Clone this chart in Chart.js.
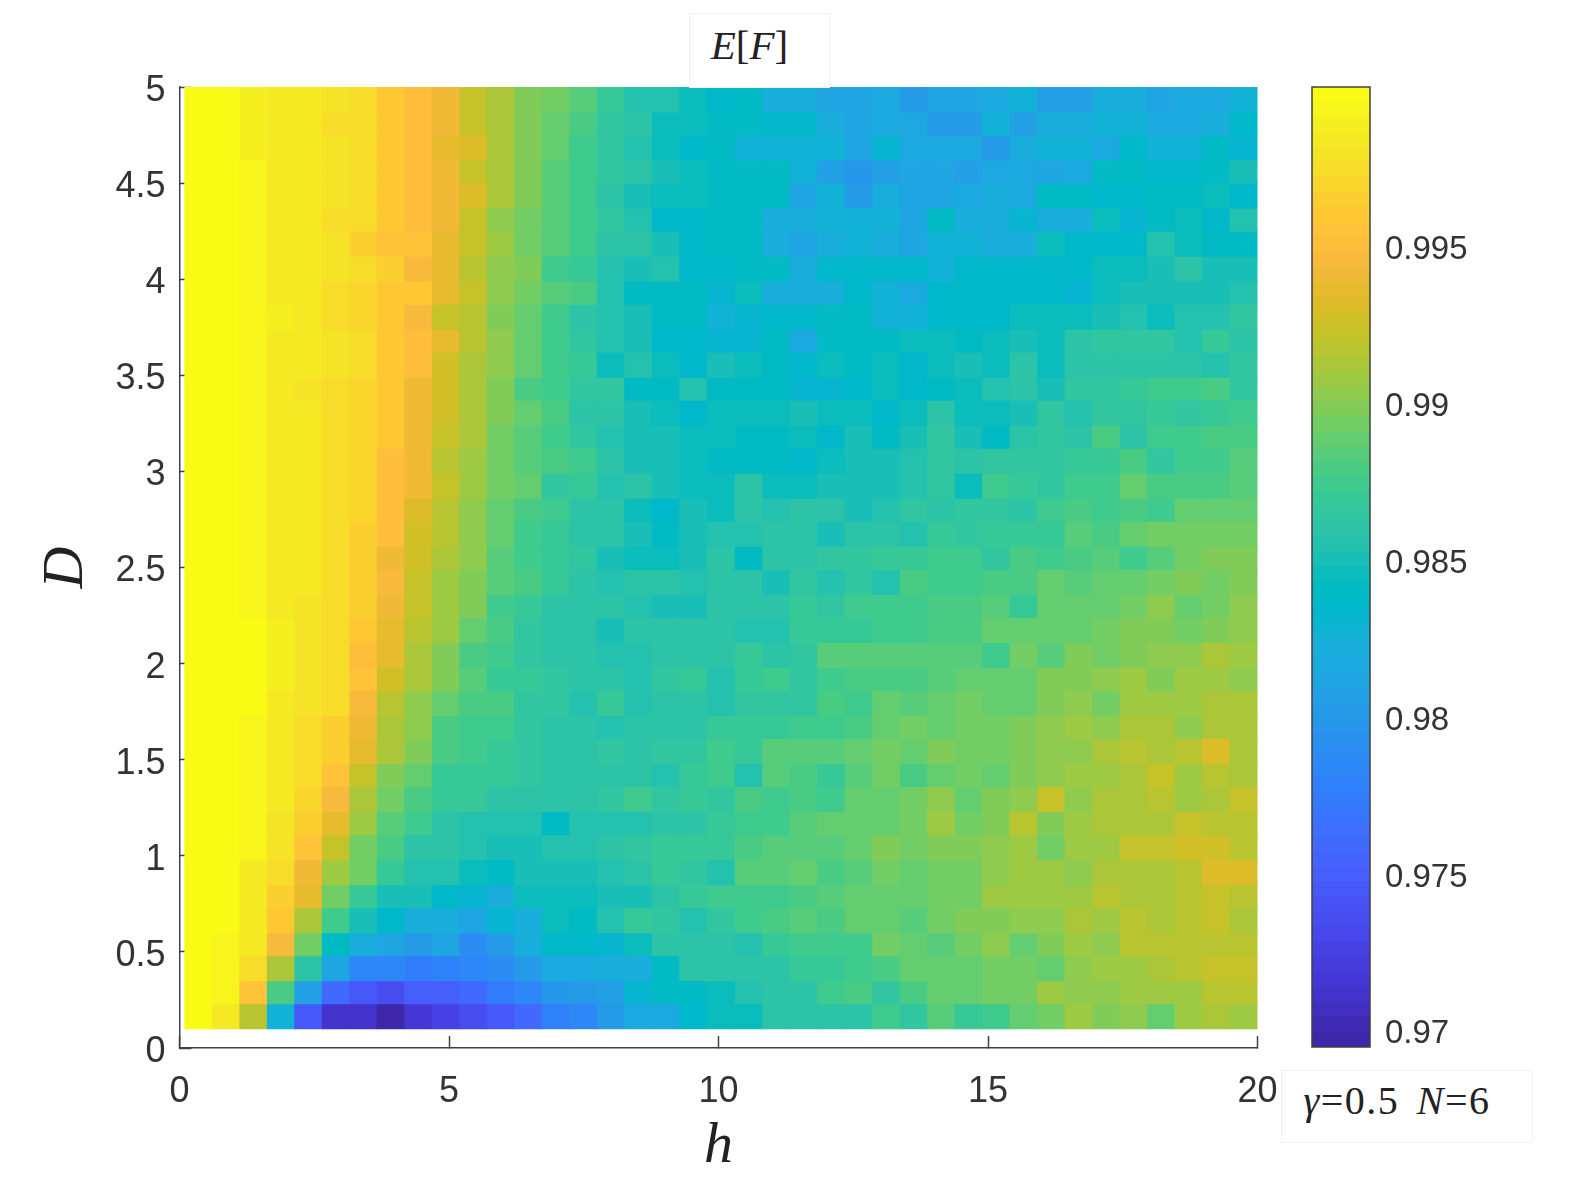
<!DOCTYPE html>
<html>
<head>
<meta charset="utf-8">
<title>E[F]</title>
<script src="https://cdn.jsdelivr.net/npm/chart.js@4/dist/chart.umd.min.js"></script>
<style>
  html, body { margin: 0; padding: 0; background: #fff; overflow: hidden; }
  #page { position: relative; width: 1578px; height: 1183px; }
  canvas { position: absolute; display: block; }
  .mathbox { position: absolute; box-sizing: border-box; border: 1px solid #f1f1f1; background: #fff;
             font-family: "Liberation Serif", serif; color: #222; white-space: nowrap; text-align: center; }
</style>
</head>
<body>
<div id="page">
  <canvas id="heatChart" width="1578" height="1183" style="left:0;top:0"></canvas>
  <canvas id="barChart" width="288" height="1183" style="left:1290px;top:0"></canvas>
  <div class="mathbox" style="left:689px;top:13px;width:141px;height:75px;line-height:62px;font-size:41px;padding-right:20px"><i>E</i>[<i>F</i>]</div>
  <div class="mathbox" style="left:1281px;top:1070px;width:252px;height:73px;line-height:60px;font-size:40px;letter-spacing:1.5px;word-spacing:6px;padding-right:20px"><i>γ</i>=0.5 <i>N</i>=6</div>
</div>
<script>
// grid edges of the pcolor
var hEdges = [0.10,0.61,1.12,1.63,2.14,2.65,3.16,3.67,4.18,4.69,5.20,5.71,6.22,6.73,7.24,7.75,8.26,8.77,9.28,9.79,10.31,10.82,11.33,11.84,12.35,12.86,13.37,13.88,14.39,14.90,15.41,15.92,16.43,16.94,17.45,17.96,18.47,18.98,19.49,20.00];
var dEdges = [0.10,0.23,0.35,0.48,0.60,0.73,0.85,0.98,1.11,1.23,1.36,1.48,1.61,1.73,1.86,1.98,2.11,2.24,2.36,2.49,2.61,2.74,2.86,2.99,3.12,3.24,3.37,3.49,3.62,3.74,3.87,3.99,4.12,4.25,4.37,4.50,4.62,4.75,4.87,5.00];

var hTicks = [0,5,10,15,20];
var dTicks = [0,0.5,1,1.5,2,2.5,3,3.5,4,4.5,5];
var barTicks = [0.97,0.975,0.98,0.985,0.99,0.995];

// E[F] x 10^4, one list per row, top row (D=5) first
var row01 = [9998,9998,9989,9984,9984,9979,9975,9960,9951,9941,9922,9913,9898,9893,9884,9870,9855,9855,9846,9836,9841,9822,9822,9812,9812,9817,9803,9812,9812,9817,9826,9807,9807,9822,9822,9812,9817,9817,9826];
var row02 = [9998,9998,9989,9984,9984,9975,9975,9960,9951,9941,9922,9913,9898,9889,9879,9865,9860,9846,9846,9841,9841,9836,9836,9822,9812,9817,9817,9803,9803,9826,9807,9822,9822,9826,9826,9817,9817,9822,9836];
var row03 = [9998,9998,9989,9984,9984,9979,9975,9960,9951,9936,9932,9913,9898,9889,9874,9865,9855,9846,9836,9841,9826,9826,9826,9826,9812,9831,9817,9817,9817,9803,9822,9826,9826,9817,9836,9826,9826,9841,9831];
var row04 = [9998,9998,9994,9984,9984,9979,9975,9960,9951,9941,9922,9913,9898,9884,9874,9865,9860,9850,9846,9841,9841,9841,9826,9807,9798,9807,9812,9812,9807,9817,9817,9812,9817,9841,9841,9836,9836,9841,9850];
var row05 = [9998,9998,9994,9984,9984,9979,9975,9960,9951,9941,9932,9913,9898,9884,9874,9860,9850,9846,9846,9841,9841,9841,9812,9826,9803,9822,9812,9812,9817,9822,9817,9841,9841,9836,9836,9841,9841,9846,9836];
var row06 = [9998,9998,9994,9984,9984,9975,9975,9960,9951,9941,9922,9903,9893,9884,9874,9865,9855,9836,9836,9841,9841,9822,9822,9826,9826,9826,9812,9841,9822,9822,9831,9822,9822,9846,9831,9841,9846,9836,9855];
var row07 = [9998,9998,9994,9984,9984,9979,9965,9956,9956,9936,9922,9908,9893,9884,9874,9860,9860,9850,9836,9841,9841,9822,9812,9822,9826,9822,9812,9826,9826,9822,9822,9846,9836,9836,9836,9855,9846,9841,9841];
var row08 = [9998,9998,9994,9984,9984,9979,9975,9965,9946,9936,9917,9903,9898,9874,9870,9855,9850,9855,9836,9836,9841,9841,9822,9836,9836,9836,9836,9826,9836,9836,9836,9836,9836,9846,9846,9850,9860,9850,9850];
var row09 = [9998,9998,9994,9984,9984,9975,9970,9960,9960,9936,9922,9903,9893,9884,9879,9855,9841,9841,9841,9831,9846,9822,9822,9822,9836,9826,9817,9836,9836,9836,9836,9836,9831,9846,9850,9850,9850,9850,9855];
var row10 = [9998,9998,9994,9989,9984,9975,9970,9960,9946,9922,9917,9898,9889,9874,9860,9855,9850,9841,9841,9826,9831,9836,9836,9841,9841,9826,9826,9836,9836,9836,9846,9846,9846,9850,9855,9846,9855,9855,9865];
var row11 = [9998,9998,9994,9984,9984,9979,9975,9960,9951,9936,9917,9903,9889,9874,9865,9855,9850,9836,9836,9831,9831,9841,9817,9841,9841,9841,9846,9846,9841,9846,9850,9846,9860,9865,9865,9865,9855,9870,9860];
var row12 = [9998,9998,9994,9984,9984,9979,9975,9960,9951,9927,9913,9903,9889,9874,9870,9846,9855,9846,9836,9850,9846,9841,9836,9846,9841,9846,9836,9846,9850,9846,9860,9846,9860,9860,9860,9860,9860,9855,9865];
var row13 = [9998,9998,9994,9984,9979,9975,9970,9960,9941,9927,9913,9898,9879,9874,9865,9865,9841,9841,9855,9841,9841,9841,9831,9831,9836,9846,9836,9841,9846,9855,9860,9850,9865,9865,9870,9874,9874,9879,9865];
var row14 = [9998,9998,9994,9984,9984,9975,9970,9960,9941,9927,9913,9898,9889,9879,9860,9860,9850,9846,9836,9846,9846,9846,9850,9846,9846,9836,9846,9860,9846,9846,9850,9865,9855,9865,9865,9870,9865,9870,9874];
var row15 = [9998,9998,9994,9984,9984,9975,9970,9960,9941,9922,9913,9893,9884,9874,9865,9855,9850,9850,9846,9846,9841,9841,9846,9836,9850,9841,9850,9865,9850,9841,9860,9865,9860,9879,9860,9874,9874,9879,9879];
var row16 = [9998,9998,9994,9984,9984,9975,9970,9951,9941,9917,9908,9893,9884,9879,9874,9860,9850,9850,9846,9841,9841,9841,9836,9846,9850,9850,9855,9865,9860,9865,9865,9865,9870,9870,9879,9865,9874,9874,9884];
var row17 = [9998,9998,9994,9984,9984,9975,9970,9951,9941,9922,9908,9893,9889,9865,9870,9855,9860,9850,9846,9846,9860,9846,9846,9850,9850,9850,9855,9865,9846,9874,9870,9865,9874,9874,9889,9879,9879,9879,9884];
var row18 = [9998,9998,9994,9984,9984,9975,9970,9951,9932,9917,9903,9889,9879,9874,9860,9860,9846,9836,9850,9846,9860,9855,9860,9860,9850,9855,9865,9860,9865,9865,9860,9874,9879,9874,9879,9874,9889,9889,9889];
var row19 = [9998,9998,9994,9984,9984,9975,9965,9951,9927,9917,9903,9889,9874,9870,9860,9860,9850,9841,9850,9855,9855,9860,9860,9850,9860,9860,9855,9870,9865,9870,9870,9870,9884,9879,9889,9893,9893,9893,9893];
var row20 = [9998,9998,9994,9984,9984,9975,9965,9941,9927,9913,9903,9884,9874,9870,9865,9850,9846,9846,9850,9860,9841,9860,9860,9865,9865,9870,9870,9874,9874,9865,9879,9874,9879,9884,9874,9884,9893,9898,9898];
var row21 = [9998,9998,9994,9984,9984,9975,9965,9946,9922,9908,9898,9884,9879,9870,9860,9855,9860,9860,9855,9860,9860,9850,9865,9855,9865,9855,9879,9874,9874,9879,9879,9889,9884,9889,9889,9893,9898,9893,9898];
var row22 = [9998,9998,9994,9984,9979,9975,9965,9941,9922,9908,9898,9874,9870,9860,9860,9860,9855,9850,9850,9860,9860,9860,9870,9865,9874,9874,9874,9879,9879,9884,9870,9889,9889,9889,9893,9903,9889,9893,9903];
var row23 = [9998,9998,9998,9989,9979,9975,9960,9936,9917,9908,9889,9879,9865,9860,9860,9850,9860,9860,9860,9860,9855,9855,9870,9870,9870,9874,9874,9879,9879,9889,9889,9889,9889,9893,9898,9898,9893,9898,9903];
var row24 = [9998,9998,9998,9989,9979,9975,9951,9936,9913,9898,9879,9874,9865,9860,9860,9855,9855,9860,9860,9860,9870,9860,9865,9884,9884,9884,9884,9884,9884,9874,9893,9884,9898,9893,9898,9903,9903,9913,9908];
var row25 = [9998,9998,9998,9989,9979,9975,9956,9927,9913,9898,9884,9870,9870,9865,9860,9860,9855,9865,9870,9855,9870,9874,9865,9874,9879,9879,9879,9884,9889,9889,9889,9898,9898,9903,9908,9898,9908,9908,9903];
var row26 = [9998,9998,9998,9984,9979,9975,9946,9917,9903,9889,9879,9879,9865,9865,9855,9870,9855,9860,9860,9855,9865,9865,9865,9879,9874,9889,9884,9889,9893,9889,9889,9898,9903,9893,9908,9908,9908,9913,9913];
var row27 = [9998,9998,9994,9984,9975,9965,9941,9913,9903,9879,9874,9874,9865,9860,9860,9855,9860,9860,9860,9870,9870,9870,9874,9874,9879,9889,9893,9889,9893,9893,9898,9903,9908,9903,9913,9913,9903,9913,9913];
var row28 = [9998,9998,9994,9984,9975,9965,9936,9913,9898,9879,9874,9870,9865,9860,9860,9865,9860,9865,9865,9874,9870,9884,9884,9884,9889,9893,9889,9898,9893,9893,9898,9903,9903,9913,9917,9913,9917,9932,9913];
var row29 = [9998,9998,9994,9984,9975,9956,9922,9898,9889,9870,9870,9870,9865,9860,9860,9860,9860,9855,9870,9874,9855,9884,9879,9870,9884,9893,9879,9889,9893,9889,9898,9903,9908,9908,9913,9922,9908,9917,9913];
var row30 = [9998,9998,9994,9984,9970,9946,9913,9893,9879,9870,9870,9860,9860,9860,9860,9865,9874,9865,9870,9865,9879,9874,9879,9874,9889,9889,9893,9903,9889,9898,9903,9922,9903,9913,9913,9917,9908,9913,9922];
var row31 = [9998,9998,9994,9979,9965,9936,9908,9884,9874,9860,9855,9855,9855,9841,9855,9855,9855,9860,9860,9870,9874,9874,9884,9889,9889,9889,9893,9908,9893,9898,9917,9898,9908,9913,9913,9913,9922,9917,9917];
var row32 = [9998,9998,9994,9979,9956,9922,9893,9879,9860,9860,9855,9850,9850,9855,9855,9860,9865,9870,9870,9870,9879,9884,9884,9884,9889,9898,9893,9898,9898,9903,9908,9893,9908,9908,9922,9922,9927,9927,9917];
var row33 = [9998,9998,9984,9975,9941,9908,9893,9870,9855,9855,9846,9841,9850,9850,9850,9855,9860,9870,9865,9855,9884,9884,9889,9879,9884,9893,9889,9893,9893,9903,9908,9908,9903,9913,9913,9913,9917,9932,9932];
var row34 = [9998,9998,9984,9965,9936,9893,9870,9850,9850,9836,9831,9822,9846,9846,9846,9850,9850,9860,9870,9874,9874,9874,9879,9884,9889,9889,9889,9893,9893,9908,9908,9908,9908,9917,9913,9913,9917,9922,9917];
var row35 = [9998,9998,9984,9960,9913,9874,9850,9836,9822,9822,9812,9831,9822,9846,9841,9855,9870,9865,9855,9865,9874,9879,9884,9879,9889,9889,9884,9893,9898,9898,9903,9903,9913,9908,9917,9913,9917,9922,9913];
var row36 = [9998,9994,9984,9946,9893,9841,9822,9812,9803,9812,9788,9803,9822,9836,9836,9831,9846,9860,9860,9860,9855,9870,9874,9874,9874,9893,9889,9884,9893,9903,9889,9898,9908,9903,9917,9917,9917,9917,9917];
var row37 = [9998,9994,9975,9913,9860,9812,9783,9783,9774,9779,9783,9788,9803,9817,9817,9822,9822,9841,9860,9860,9860,9860,9870,9870,9874,9879,9889,9889,9889,9893,9893,9889,9903,9908,9908,9913,9917,9922,9922];
var row38 = [9998,9994,9956,9879,9807,9759,9745,9735,9750,9750,9759,9774,9783,9798,9803,9807,9831,9841,9841,9846,9855,9860,9860,9874,9879,9865,9879,9889,9889,9893,9893,9908,9903,9903,9908,9908,9908,9917,9917];
var row39 = [9998,9984,9917,9826,9745,9711,9711,9697,9716,9726,9735,9745,9759,9779,9783,9803,9817,9817,9836,9846,9846,9860,9860,9860,9860,9874,9865,9884,9870,9874,9889,9893,9908,9898,9903,9889,9908,9913,9908];

var rows = [row01,row02,row03,row04,row05,row06,row07,row08,row09,row10,row11,row12,row13,
            row14,row15,row16,row17,row18,row19,row20,row21,row22,row23,row24,row25,row26,
            row27,row28,row29,row30,row31,row32,row33,row34,row35,row36,row37,row38,row39];

// colour limits
var cMin = 0.96947;
var cMax = 1.00006;

// parula, 64 levels
var parula = [
  [.2422,.1504,.6603],[.2504,.1650,.7076],[.2578,.1818,.7511],[.2647,.1978,.7952],
  [.2706,.2147,.8364],[.2751,.2342,.8710],[.2783,.2559,.8991],[.2803,.2782,.9221],
  [.2813,.3006,.9414],[.2810,.3228,.9579],[.2795,.3447,.9717],[.2760,.3667,.9829],
  [.2699,.3892,.9906],[.2602,.4123,.9952],[.2440,.4358,.9988],[.2206,.4603,.9973],
  [.1963,.4847,.9892],[.1834,.5074,.9798],[.1786,.5289,.9682],[.1764,.5499,.9520],
  [.1687,.5703,.9359],[.1540,.5902,.9218],[.1460,.6091,.9079],[.1380,.6276,.8973],
  [.1248,.6459,.8883],[.1113,.6635,.8763],[.0952,.6798,.8598],[.0689,.6948,.8394],
  [.0297,.7082,.8163],[.0036,.7197,.7917],[.0067,.7293,.7660],[.0433,.7387,.7394],
  [.0964,.7481,.7120],[.1408,.7571,.6842],[.1717,.7666,.6554],[.1938,.7767,.6251],
  [.2161,.7843,.5923],[.2470,.7918,.5567],[.2906,.7973,.5188],[.3406,.8008,.4789],
  [.3909,.8029,.4354],[.4456,.8024,.3909],[.5044,.7993,.3480],[.5616,.7942,.3045],
  [.6174,.7876,.2612],[.6720,.7793,.2227],[.7242,.7698,.1910],[.7738,.7598,.1646],
  [.8203,.7498,.1535],[.8634,.7406,.1596],[.9035,.7330,.1774],[.9393,.7288,.2100],
  [.9728,.7298,.2394],[.9956,.7434,.2371],[.9970,.7659,.2199],[.9952,.7861,.1999],
  [.9892,.8136,.1883],[.9786,.8386,.1766],[.9676,.8639,.1643],[.9610,.8890,.1537],
  [.9597,.9135,.1423],[.9628,.9373,.1265],[.9691,.9606,.1064],[.9769,.9839,.0805]
];

function parulaCss(i) {
  var c = parula[i];
  return 'rgb(' + Math.round(c[0]*255) + ',' + Math.round(c[1]*255) + ',' + Math.round(c[2]*255) + ')';
}

function colorOf(v) {
  var i = Math.floor((v - cMin) / (cMax - cMin) * 64);
  return parulaCss(Math.max(0, Math.min(63, i)));
}

var axisColor = '#404040';
var tickFont = { family: '"Liberation Sans", Arial, sans-serif', size: 36 };
var mathFont = { family: '"Liberation Serif", serif', size: 58, style: 'italic' };

// one dataset per row, floating bars so the cells follow hEdges / dEdges
var heatDatasets = rows.map(function (row, r) {
  var lo = dEdges[38 - r];
  var hi = dEdges[39 - r];
  return {
    data: row.map(function (v, j) {
      return { x: (hEdges[j] + hEdges[j + 1]) / 2, y: [lo, hi] };
    }),
    backgroundColor: row.map(function (v) { return colorOf(v / 10000); }),
    borderWidth: 0,
    inflateAmount: 0.5,
    barPercentage: 1,
    categoryPercentage: 1,
    grouped: false
  };
});

new Chart(document.getElementById('heatChart').getContext('2d'), {
  type: 'bar',
  data: { datasets: heatDatasets },
  options: {
    responsive: false,
    animation: false,
    layout: { padding: { left: 0, top: 87, right: 320.5, bottom: 0 } },
    plugins: { legend: { display: false }, tooltip: { enabled: false } },
    scales: {
      x: {
        type: 'linear', min: 0, max: 20, offset: false,
        afterBuildTicks: function (s) { s.ticks = hTicks.map(function (v) { return { value: v }; }); },
        afterFit: function (s) { s.height = 135; },
        grid: { drawOnChartArea: false, offset: false, tickLength: -12, tickColor: axisColor, tickWidth: 1.5 },
        border: { color: axisColor, width: 1.5 },
        ticks: { font: tickFont, color: '#333', padding: 34, maxRotation: 0, callback: function (v) { return String(v); } },
        title: { display: true, text: 'h', font: mathFont, color: '#222', padding: 1 }
      },
      y: {
        min: 0, max: 5,
        afterBuildTicks: function (s) { s.ticks = dTicks.map(function (v) { return { value: v }; }); },
        afterFit: function (s) { s.width = 179.5; },
        grid: { drawOnChartArea: false, tickLength: -12, tickColor: axisColor, tickWidth: 1.5 },
        border: { color: axisColor, width: 1.5 },
        ticks: { font: tickFont, color: '#333', padding: 26, labelOffset: 4, callback: function (v) { return String(v); } },
        title: { display: true, text: 'D', font: mathFont, color: '#222', padding: 32 }
      }
    }
  }
});

// colorbar, one strip per level of the map
var barDatasets = parula.map(function (c, i) {
  var step = (cMax - cMin) / 64;
  return {
    data: [{ x: 'c', y: [cMin + i * step, cMin + (i + 1) * step] }],
    backgroundColor: parulaCss(i),
    borderWidth: 0,
    inflateAmount: 0.5,
    barPercentage: 1,
    categoryPercentage: 1,
    grouped: false
  };
});

var frame = {
  id: 'frame',
  afterDraw: function (chart) {
    var a = chart.chartArea, ctx = chart.ctx;
    ctx.save();
    ctx.strokeStyle = axisColor;
    ctx.lineWidth = 1.5;
    ctx.strokeRect(a.left, a.top, a.right - a.left, a.bottom - a.top);
    ctx.restore();
  }
};

new Chart(document.getElementById('barChart').getContext('2d'), {
  type: 'bar',
  data: { labels: ['c'], datasets: barDatasets },
  plugins: [frame],
  options: {
    responsive: false,
    animation: false,
    layout: { padding: { left: 22, top: 87, right: 0, bottom: 136 } },
    plugins: { legend: { display: false }, tooltip: { enabled: false } },
    scales: {
      x: { display: false },
      y: {
        position: 'right', min: cMin, max: cMax, z: 1,
        afterBuildTicks: function (s) { s.ticks = barTicks.map(function (v) { return { value: v }; }); },
        afterFit: function (s) { s.width = 208; },
        grid: { drawOnChartArea: false, tickLength: -10, tickColor: '#2a2a2a', tickWidth: 1.5 },
        border: { display: false },
        ticks: { font: { family: tickFont.family, size: 33 }, color: '#333', padding: 25, labelOffset: 4, callback: function (v) { return String(v); } }
      }
    }
  }
});
</script>
</body>
</html>
